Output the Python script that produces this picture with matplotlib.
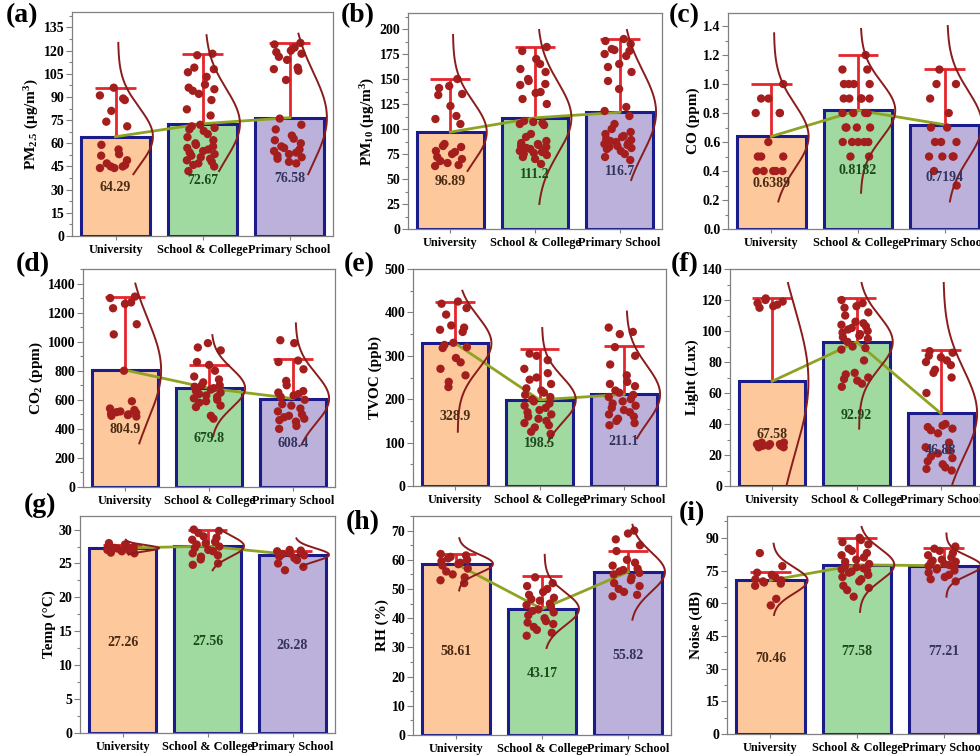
import numpy as np
import matplotlib
matplotlib.use('Agg')
import matplotlib.pyplot as plt
from matplotlib.ticker import MultipleLocator, FormatStrFormatter

plt.rcParams['font.family'] = ['Liberation Serif', 'DejaVu Serif']
plt.rcParams['font.weight'] = 'bold'
plt.rcParams['mathtext.default'] = 'regular'

categories = ['University', 'School & College', 'Primary School']

# ---------------- data ----------------
pm25_means = [64.29, 72.67, 76.58]
pm25_err = [31.7, 45.3, 48.4]
pm25_univ = [96, 89, 91, 88, 81, 74, 71, 59, 56, 53, 52, 49, 47, 45, 46, 44, 45, 44]
pm25_school = [118, 117, 109, 108, 106, 103, 98, 96, 95, 94, 92, 88, 82, 78, 72, 71, 70, 69, 68,
               66, 64, 62, 60, 59, 58, 57, 56, 55, 54, 53, 52, 51, 50, 49, 48, 47, 46, 45, 42]
pm25_primary = [125, 124, 122, 120, 119, 118, 116, 114, 109, 108, 107, 101, 76, 72, 69, 65, 63,
                62, 60, 58, 57, 56, 55, 54, 53, 52, 51, 50, 48, 47]
pm25_curve_lo = [40, 42, 40]
pm25_curve_hi = [125, 130, 131]

pm10_means = [96.89, 111.2, 116.7]
pm10_err = [53.1, 70.8, 73.3]
pm10_univ = [150, 143, 141, 135, 134, 123, 113, 110, 105, 85, 83, 82, 78, 77, 75, 72, 70, 68, 66, 64, 63]
pm10_school = [182, 178, 170, 165, 160, 157, 150, 148, 145, 144, 137, 136, 130, 125, 108, 107, 106,
               105, 104, 95, 92, 88, 86, 85, 84, 83, 82, 81, 80, 79, 78, 77, 76, 75, 74, 72, 70, 65]
pm10_primary = [190, 188, 185, 180, 179, 178, 175, 173, 165, 162, 157, 148, 140, 122, 118, 113, 105,
                100, 97, 95, 93, 92, 90, 89, 88, 87, 86, 85, 84, 83, 82, 81, 80, 78, 75, 72, 69]
pm10_curve_lo = [58, 25, 49]
pm10_curve_hi = [194, 199, 199]

co_means = [0.6389, 0.8182, 0.7194]
co_err = [0.361, 0.382, 0.381]
co_univ = [1.0, 0.9, 0.9, 0.8, 0.8, 0.8, 0.6, 0.5, 0.5, 0.5, 0.4, 0.4, 0.4, 0.4, 0.4]
co_school = [1.2, 1.1, 1.1, 1.0, 1.0, 1.0, 1.0, 0.9, 0.9, 0.9, 0.9, 0.9, 0.8, 0.8, 0.8, 0.8,
             0.7, 0.7, 0.7, 0.7, 0.6, 0.6, 0.6, 0.6, 0.6, 0.5, 0.5]
co_primary = [1.1, 1.0, 1.0, 0.9, 0.8, 0.7, 0.7, 0.6, 0.6, 0.6, 0.5, 0.5, 0.5, 0.5, 0.4, 0.3]
co_curve_lo = [0.19, 0.25, 0.19]
co_curve_hi = [1.35, 1.38, 1.40]

co2_means = [804.9, 679.8, 608.4]
co2_err = [505, 160, 272]
co2_univ = [1310, 1300, 1270, 1260, 1230, 1120, 1050, 800, 590, 540, 530, 520, 515, 510, 505,
            500, 495, 490, 485]
co2_school = [990, 960, 940, 860, 840, 800, 760, 740, 720, 700, 700, 690, 680, 670, 660, 650, 640,
              630, 620, 610, 600, 590, 580, 560, 550, 490, 470]
co2_primary = [1010, 990, 870, 860, 810, 730, 700, 660, 650, 640, 630, 620, 600, 570, 560, 540,
               520, 500, 490, 480, 470, 460, 450, 420, 400]
co2_curve_lo = [300, 350, 292]
co2_curve_hi = [1400, 1045, 1126]

tvoc_means = [328.9, 198.5, 211.1]
tvoc_err = [96, 118, 111]
tvoc_univ = [425, 420, 410, 395, 370, 365, 360, 355, 330, 325, 320, 318, 295, 285, 270, 255, 240, 228]
tvoc_school = [305, 300, 290, 270, 260, 250, 245, 235, 225, 220, 215, 210, 205, 200, 195, 190, 185,
               180, 175, 170, 165, 160, 155, 150, 145, 140, 135, 125, 120]
tvoc_primary = [365, 355, 350, 320, 300, 280, 255, 240, 235, 230, 220, 215, 210, 205, 200, 195, 190,
                185, 180, 175, 170, 165, 160, 155, 150, 145, 140]
tvoc_curve_lo = [125, 100, 110]
tvoc_curve_hi = [450, 364, 402]

light_means = [67.58, 92.92, 46.88]
light_err = [53.4, 28.1, 41.0]
light_univ = [121, 120, 119, 118, 117, 116, 115, 28, 28, 27, 27, 27, 26, 26, 26, 25, 25]
light_school = [120, 118, 116, 115, 112, 110, 106, 105, 104, 103, 102, 101, 100, 99, 98, 97, 96, 95,
                93, 90, 89, 88, 81, 73, 72, 70, 69, 68, 66, 64]
light_primary = [87, 86, 84, 83, 81, 80, 78, 75, 73, 70, 60, 40, 39, 38, 37, 36, 34, 28, 25, 23, 21,
                 19, 18, 16, 14, 12, 11, 10]
light_curve_lo = [0, 37, 0]
light_curve_hi = [131, 131, 131]

temp_means = [27.26, 27.56, 26.28]
temp_err = [0.45, 2.4, 0.6]
temp_univ = [28.0, 27.8, 27.6, 27.5, 27.4, 27.3, 27.2, 27.1, 27.0, 26.9, 26.8, 26.6, 26.5]
temp_school = [30.0, 29.8, 29.5, 29.0, 28.8, 28.5, 28.2, 28.0, 27.8, 27.5, 27.3, 27.0, 26.8, 26.5,
               26.2, 26.0, 25.6, 25.0, 24.8]
temp_primary = [27.0, 26.9, 26.8, 26.7, 26.5, 26.4, 26.2, 26.0, 25.8, 25.5, 25.0, 24.5, 24.0]
temp_curve_lo = [26.3, 24.0, 24.5]
temp_curve_hi = [28.5, 30.2, 28.7]

rh_means = [58.61, 43.17, 55.82]
rh_err = [3.4, 11.2, 7.2]
rh_univ = [62, 61.5, 61, 60.5, 60, 59.5, 59, 58.5, 58, 57, 56, 55, 54, 53, 52]
rh_school = [54, 52, 51, 50, 49, 48, 47, 46.5, 46, 45, 44.5, 44, 43, 42.5, 42, 41, 40, 39, 38.5, 38,
             37, 36, 35, 34]
rh_primary = [70, 69, 67, 65, 63, 60, 59, 58, 57, 56.5, 56, 55.5, 55, 54, 53, 52, 51, 50, 49, 48, 47.5]
rh_curve_lo = [49.5, 29.8, 39.5]
rh_curve_hi = [67.4, 61.7, 72.0]

noise_means = [70.46, 77.58, 77.21]
noise_err = [4.0, 12.4, 8.3]
noise_univ = [83, 77, 74, 73, 72, 71, 70.5, 70, 69.5, 69, 68, 62, 59]
noise_school = [90, 89, 88, 87, 85, 84, 83, 82, 81, 80, 79, 78, 77, 76.5, 76, 75.5, 75, 74.5, 74,
                73, 72, 71, 70, 68, 67, 66, 63]
noise_primary = [86, 85, 84, 83, 82, 81, 80, 79.5, 79, 78.5, 78, 77.5, 77, 76.5, 76, 75.5, 75, 74,
                 73, 72, 71, 70]
noise_curve_lo = [54.6, 56, 63]
noise_curve_hi = [87.3, 95, 92]

# ---------------- styling / layout ----------------
bar_colors = ['#FDC89B', '#A0DAA0', '#BCB1DA']
label_colors = ['#4A2A12', '#1C4A1C', '#33335E']
edge_color = '#1B1B8A'
point_color = '#A41E1E'
err_color = '#E5262C'
curve_color = '#8A1C1C'
line_color = '#8FA322'
spine_color = '#808080'

panels = [
    dict(tag='(a)', ylabel='PM$_{2.5}$ (μg/m$^3$)', means=pm25_means, err=pm25_err,
         pts=[pm25_univ, pm25_school, pm25_primary], lo=pm25_curve_lo, hi=pm25_curve_hi,
         ylim=145, tmax=135, step=15, fmt='%d', box=(72, 333, 12, 236), tagpos=(6, 3)),
    dict(tag='(b)', ylabel='PM$_{10}$ (μg/m$^3$)', means=pm10_means, err=pm10_err,
         pts=[pm10_univ, pm10_school, pm10_primary], lo=pm10_curve_lo, hi=pm10_curve_hi,
         ylim=216, tmax=200, step=25, fmt='%d', box=(408, 662, 13, 229), tagpos=(341, 3)),
    dict(tag='(c)', ylabel='CO (ppm)', means=co_means, err=co_err,
         pts=[co_univ, co_school, co_primary], lo=co_curve_lo, hi=co_curve_hi,
         ylim=1.49, tmax=1.4, step=0.2, fmt='%.1f', box=(728, 988, 13, 229), tagpos=(669, 3)),
    dict(tag='(d)', ylabel='CO$_2$ (ppm)', means=co2_means, err=co2_err,
         pts=[co2_univ, co2_school, co2_primary], lo=co2_curve_lo, hi=co2_curve_hi,
         ylim=1500, tmax=1400, step=200, fmt='%d', box=(83, 335, 269, 487), tagpos=(16, 252)),
    dict(tag='(e)', ylabel='TVOC (ppb)', means=tvoc_means, err=tvoc_err,
         pts=[tvoc_univ, tvoc_school, tvoc_primary], lo=tvoc_curve_lo, hi=tvoc_curve_hi,
         ylim=500, tmax=500, step=100, fmt='%d', box=(413, 666, 269, 486), tagpos=(344, 252)),
    dict(tag='(f)', ylabel='Light (Lux)', means=light_means, err=light_err,
         pts=[light_univ, light_school, light_primary], lo=light_curve_lo, hi=light_curve_hi,
         ylim=140, tmax=140, step=20, fmt='%d', box=(730, 983, 269, 486), tagpos=(671, 252)),
    dict(tag='(g)', ylabel='Temp (°C)', means=temp_means, err=temp_err,
         pts=[temp_univ, temp_school, temp_primary], lo=temp_curve_lo, hi=temp_curve_hi,
         ylim=32, tmax=30, step=5, fmt='%d', box=(80, 335, 516, 733), tagpos=(24, 493)),
    dict(tag='(h)', ylabel='RH (%)', means=rh_means, err=rh_err,
         pts=[rh_univ, rh_school, rh_primary], lo=rh_curve_lo, hi=rh_curve_hi,
         ylim=75, tmax=70, step=10, fmt='%d', box=(413, 671, 516, 735), tagpos=(346, 510)),
    dict(tag='(i)', ylabel='Noise (dB)', means=noise_means, err=noise_err,
         pts=[noise_univ, noise_school, noise_primary], lo=noise_curve_lo, hi=noise_curve_hi,
         ylim=100, tmax=90, step=15, fmt='%d', box=(727, 987, 516, 734), tagpos=(679, 501)),
]

W, H = 980, 756
fig = plt.figure(figsize=(W / 100, H / 100), dpi=100)

xpos = np.arange(len(categories))
for k, p in enumerate(panels):
    x0, x1, y0, y1 = p['box']
    ax = fig.add_axes([x0 / W, 1 - y1 / H, (x1 - x0) / W, (y1 - y0) / H])
    means = p['means']
    # bars
    ax.bar(xpos, means, width=0.79, color=bar_colors, edgecolor=edge_color, linewidth=2.2, zorder=1)
    # error bars (upper only)
    for i in range(3):
        top = means[i] + p['err'][i]
        ax.plot([xpos[i], xpos[i]], [means[i], top], color=err_color, lw=2, zorder=2,
                solid_capstyle='butt')
        ax.plot([xpos[i] - 0.235, xpos[i] + 0.235], [top, top], color=err_color, lw=2, zorder=2,
                solid_capstyle='butt')
    # connecting line
    ax.plot(xpos, means, color=line_color, lw=2, zorder=3)
    # points + distribution curves
    for i in range(3):
        vals = np.asarray(p['pts'][i], dtype=float)
        n = len(vals)
        jit = 0.16 * np.sin(np.arange(n) * 2.39996 + k * 0.7 + i)
        ax.scatter(xpos[i] + jit - 0.02, vals, s=36, color=point_color, edgecolors='none', zorder=4)
        mu = means[i]
        sd = np.std(vals, ddof=1)
        yy = np.linspace(p['lo'][i], p['hi'][i], 300)
        xx = xpos[i] + 0.03 + 0.4 * np.exp(-0.5 * ((yy - mu) / sd) ** 2)
        ax.plot(xx, yy, color=curve_color, lw=1.4, zorder=5)
    # value labels
    for i in range(3):
        ax.text(xpos[i], 0.49 * means[i], f'{means[i]:.4g}', ha='center', va='center',
                fontsize=10, fontweight='bold', color=label_colors[i], zorder=6)
    # axes styling
    ax.set_xlim(-0.5, 2.5)
    ax.set_ylim(0, p['ylim'])
    ax.set_yticks(np.arange(0, p['tmax'] + p['step'] / 2, p['step']))
    ax.yaxis.set_minor_locator(MultipleLocator(p['step'] / 2))
    ax.yaxis.set_major_formatter(FormatStrFormatter(p['fmt']))
    ax.set_xticks(xpos)
    ax.set_xticklabels(categories, fontsize=8.8, fontweight='bold')
    ax.tick_params(axis='y', which='major', length=4, width=0.8, color=spine_color,
                   labelsize=10, pad=1.5)
    ax.tick_params(axis='y', which='minor', length=2, width=0.8, color=spine_color)
    ax.tick_params(axis='x', length=3, width=0.8, color=spine_color, pad=3)
    for sp in ax.spines.values():
        sp.set_color(spine_color)
        sp.set_linewidth(0.9)
    ax.set_ylabel(p['ylabel'], fontsize=11, fontweight='bold', labelpad=2)
    fig.text(p['tagpos'][0] / W, 1 - p['tagpos'][1] / H, p['tag'], fontsize=20,
             fontweight='bold', ha='left', va='top')

fig.savefig('out.png', dpi=100)
